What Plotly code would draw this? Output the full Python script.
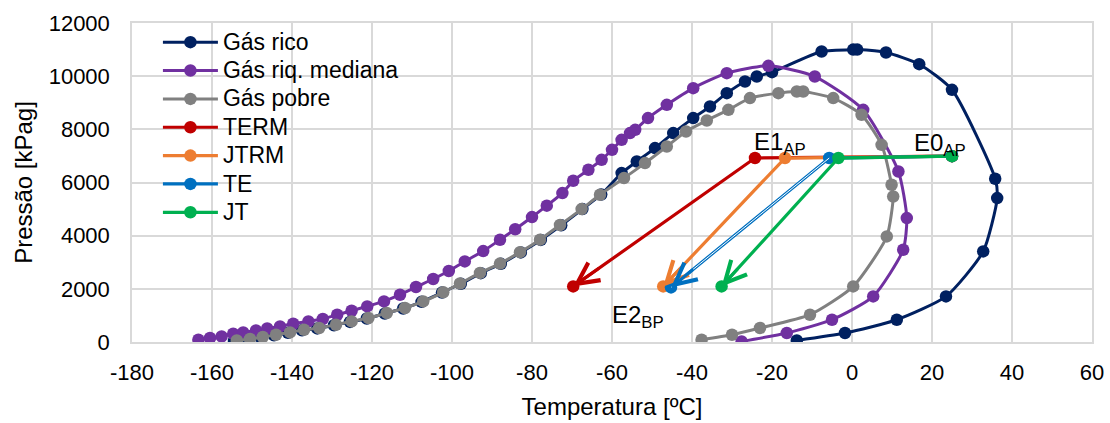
import plotly.graph_objects as go

# ---------------- data ----------------
# Gás rico (phase envelope)
rico_T = [-154.5, -151, -147.8, -144.5, -141, -137.5, -133.7, -129.5, -125.5, -121.3,
          -116.8, -112.2, -107.6, -102.5, -97.8, -92.8, -87.8, -82.8, -77.8, -72.7,
          -67.4, -62.7, -57.6, -53.8, -49.25, -44.7, -39.7, -35.5, -31.3, -26.75,
          -23.8, -20, -7.6, 0.3, 1.3, 8.5, 16.8, 25, 35.8, 36.3,
          32.8, 23.5, 11.2, -1.75, -13.8]
rico_P = [40, 100, 170, 255, 345, 440, 510, 630, 755, 885,
          1070, 1260, 1510, 1860, 2190, 2590, 2940, 3370, 3840, 4390,
          5000, 5550, 6355, 6790, 7294, 7858, 8422, 8860, 9362, 9800,
          9987, 10150, 10927, 11000, 11000, 10890, 10450, 9487, 6140, 5414,
          3407, 1715, 838, 338, 60]

# Gás riq. mediana
med_T = [-163.4, -160.5, -157.6, -154.7, -152.2, -149, -146.2, -143, -139.7, -135.9,
         -132.3, -128.7, -125.1, -121.2, -117, -113, -109, -104.7, -100.8, -96.8,
         -92.2, -88, -84.2, -80, -76.3, -72.4, -69.7, -65.9, -62.6, -60,
         -57.6, -55.5, -54.2, -51, -46.3, -39.7, -31.3, -20.9, -9.3, 2.8,
         11.6, 13.7, 12.8, 5.3, -5, -16.3, -27.6]
med_P = [86, 150, 211, 312, 361, 436, 511, 587, 688, 775,
         865, 1026, 1177, 1339, 1527, 1778, 2068, 2369, 2670, 3030,
         3420, 3846, 4240, 4700, 5130, 5602, 6065, 6478, 6854, 7230,
         7606, 7858, 7982, 8422, 8922, 9550, 10114, 10389, 9987, 8734,
         6415, 4662, 3470, 1715, 838, 338, 23]

# Gás pobre
pob_T = [-153.8, -150.5, -147.3, -144, -140.5, -137, -133.2, -129, -125.1, -120.9,
         -116.3, -111.75, -107.2, -102.2, -98, -93, -88, -83, -78, -73,
         -67.6, -63, -57, -51.75, -46.3, -41.5, -36.3, -30.9, -25.5, -18.4,
         -13.8, -12.2, -4.7, 2.4, 7.4, 9.9, 10.3, 8.7, 0.3, -10.5,
         -23, -30, -37.6]
pob_P = [60, 113, 188, 274, 361, 462, 526, 650, 775, 902,
         1090, 1278, 1527, 1870, 2200, 2600, 2950, 3380, 3850, 4400,
         5000, 5538, 6166, 6730, 7355, 7920, 8333, 8734, 9174, 9362,
         9423, 9423, 9174, 8546, 7418, 5914, 5475, 3971, 2091, 1026,
         526, 274, 86]

# Process paths E0 -> E1 -> E2
term_T = [25, -24.25, -69.7]
term_P = [6990, 6920, 2091]
jtrm_T = [25, -16.75, -47.2]
jtrm_P = [6990, 6920, 2091]
te_T = [25, -5.7, -45.25]
te_P = [6990, 6920, 2053]
jt_T = [25, -3.4, -32.6]
jt_P = [6990, 6920, 2091]

# Point labels
label_text = ["E0<sub>AP</sub>", "E1<sub>AP</sub>", "E2<sub>BP</sub>"]
label_T = [22, -18, -53.5]
label_P = [7420, 7480, 950]

x_ticks = list(range(-180, 61, 20))
x_tick_labels = ["-180", "-160", "-140", "-120", "-100", "-80", "-60", "-40", "-20",
                 "0", "20", "40", "60"]
y_ticks = list(range(0, 12001, 2000))
y_tick_labels = ["0", "2000", "4000", "6000", "8000", "10000", "12000"]

# ---------------- figure ----------------
FONT = "Liberation Sans, Arial, sans-serif"
LEG_SPAN = '<span style="font-size:23px">{}</span>'
fig = go.Figure()

curves = [
    ("Gás rico", rico_T, rico_P, "#002060"),
    ("Gás riq. mediana", med_T, med_P, "#7030A0"),
    ("Gás pobre", pob_T, pob_P, "#808080"),
]
for name, T, P, c in curves:
    fig.add_trace(go.Scatter(
        x=T, y=P, name=LEG_SPAN.format(name), mode="lines+markers", legendgroup=name,
        line=dict(color=c, width=3, shape="spline", smoothing=0.6),
        marker=dict(color=c, size=12.5, line=dict(width=0)),
    ))

procs = [
    ("TERM", term_T, term_P, "#C00000"),
    ("JTRM", jtrm_T, jtrm_P, "#ED7D31"),
    ("TE", te_T, te_P, "#0070C0"),
    ("JT", jt_T, jt_P, "#00B050"),
]
for name, T, P, c in procs:
    fig.add_trace(go.Scatter(
        x=T, y=P, name=LEG_SPAN.format(name), mode="lines+markers", legendgroup=name,
        line=dict(color=c, width=3.2),
        marker=dict(color=c, size=12.5, line=dict(width=0)),
    ))
    if name == "TE":
        fig.add_trace(go.Scatter(
            x=T[1:], y=P[1:], mode="lines", showlegend=False, hoverinfo="skip",
            line=dict(color="white", width=1),
        ))

# open arrowheads at E2
for name, T, P, c in procs:
    fig.add_annotation(
        x=T[-1], y=P[-1], xref="x", yref="y",
        ax=T[-1] + 0.15 * (T[-2] - T[-1]), ay=P[-1] + 0.15 * (P[-2] - P[-1]),
        axref="x", ayref="y", text="", showarrow=True,
        arrowhead=5, arrowsize=1.4, arrowwidth=3, arrowcolor=c, standoff=0,
    )

for t, x, y in zip(label_text, label_T, label_P):
    fig.add_annotation(x=x, y=y, xref="x", yref="y", text=t, showarrow=False,
                       font=dict(family=FONT, size=24, color="black"),
                       xanchor="center", yanchor="middle")

fig.update_layout(
    template="none",
    width=1110, height=423,
    margin=dict(l=132, r=18, t=23, b=81),
    plot_bgcolor="white", paper_bgcolor="white",
    font=dict(family=FONT, size=22, color="black"),
    showlegend=True,
    legend=dict(x=0.027, y=1.0, xanchor="left", yanchor="top",
                bgcolor="rgba(0,0,0,0)", font=dict(family=FONT, size=19.5, color="black"),
                itemwidth=55, tracegroupgap=0, traceorder="normal"),
)
fig.update_xaxes(
    range=[-180, 60], tickvals=x_ticks, ticktext=x_tick_labels, showgrid=True,
    gridcolor="#D9D9D9", gridwidth=1.5,
    showline=True, linecolor="#D9D9D9", linewidth=1.5, mirror=True, zeroline=False,
    ticks="", ticklabelstandoff=10, automargin=False,
    tickfont=dict(family=FONT, size=22, color="black"),
    title=dict(text="Temperatura [ºC]", font=dict(family=FONT, size=24, color="black"), standoff=14),
)
fig.update_yaxes(
    range=[0, 12000], tickvals=y_ticks, ticktext=y_tick_labels, showgrid=True,
    gridcolor="#D9D9D9", gridwidth=1.5, showline=True, linecolor="#D9D9D9", linewidth=1.5,
    mirror=True, zeroline=False,
    ticks="", ticklabelstandoff=16, automargin=False,
    tickfont=dict(family=FONT, size=22, color="black"),
    title=dict(text="Pressão [kPag]", font=dict(family=FONT, size=24, color="black"), standoff=9),
)

fig.write_html("out.html", config={"displayModeBar": False},
               post_script="document.body.style.margin='0';")
